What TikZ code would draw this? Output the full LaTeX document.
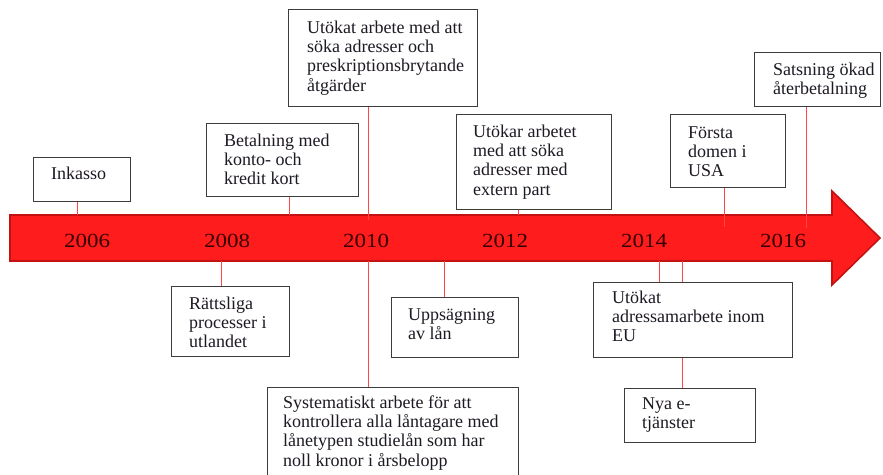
\documentclass[tikz,border=0pt]{standalone}
\usepackage{fontspec}
\setmainfont{Liberation Serif}
\definecolor{arrowred}{RGB}{255,28,28}
\definecolor{arrowedge}{RGB}{196,18,18}
\definecolor{connred}{RGB}{255,70,70}
\definecolor{boxgray}{RGB}{60,60,60}
\definecolor{txtcol}{RGB}{30,25,35}
\definecolor{yearcol}{RGB}{55,0,0}
\tikzset{
  box/.style={draw=boxgray, line width=1.3pt, fill=white, inner sep=0pt},
  txt/.style={font=\fontsize{18}{19.3}\selectfont, text=txtcol, align=left, inner sep=0pt, anchor=north west},
  conn/.style={draw=connred, line width=1pt},
  yr/.style={font=\fontsize{20}{22}\selectfont, text=yearcol, inner sep=0pt, anchor=base}
}
\newcommand{\mkbox}[5]{\node[box, anchor=north west, minimum width=#3-#1, minimum height=#4-#2] (#5) at (#1,#2) {};}
\begin{document}
\begin{tikzpicture}[x=1pt,y=-1pt]
\useasboundingbox (0,0) rectangle (883,474);
% arrow
\draw[fill=arrowred, draw=arrowedge, line width=1.6pt, line join=miter]
  (10,215) -- (832,215) -- (832,191) -- (880,238) -- (832,285) -- (832,261) -- (10,261) -- cycle;
% years
\node[yr] (y06) at (87,247) {\scalebox{1.15}[1]{2006}};
\node[yr] (y08) at (227,247) {\scalebox{1.15}[1]{2008}};
\node[yr] (y10) at (366,247) {\scalebox{1.15}[1]{2010}};
\node[yr] (y12) at (505,247) {\scalebox{1.15}[1]{2012}};
\node[yr] (y14) at (644,247) {\scalebox{1.15}[1]{2014}};
\node[yr] (y16) at (783,247) {\scalebox{1.15}[1]{2016}};
% arrow edge coordinates
\coordinate (a1) at (77,215);
\coordinate (a2) at (289,215);
\coordinate (a3) at (368,220);
\coordinate (a4) at (518,215);
\coordinate (a5) at (724,227);
\coordinate (a6) at (806,228);
\coordinate (b1) at (221,261);
\coordinate (b2) at (368,261);
\coordinate (b3) at (444,261);
\coordinate (b4) at (659,261);
\coordinate (b5) at (682,261);
% boxes above
\mkbox{33}{157}{130}{201}{inkasso}
\mkbox{206}{123}{358}{196}{betal}
\mkbox{288}{9}{477}{106}{utokat}
\mkbox{456}{114}{611}{209}{extern}
\mkbox{670}{114}{785}{187}{usa}
\mkbox{754}{52}{880}{106}{satsning}
% boxes below
\mkbox{171}{286}{289}{356}{ratt}
\mkbox{391}{297}{518}{357}{upps}
\mkbox{593}{282}{792}{357}{eu}
\mkbox{624}{388}{755}{442}{nya}
\mkbox{267}{387}{518}{485}{syst}
% connectors
\draw[conn] (inkasso.south -| a1) -- (a1);
\draw[conn] (betal.south -| a2) -- (a2);
\draw[conn] (utokat.south -| a3) -- (a3);
\draw[conn] (extern.south -| a4) -- (a4);
\draw[conn] (usa.south -| a5) -- (a5);
\draw[conn] (satsning.south -| a6) -- (a6);
\draw[conn] (b1) -- (ratt.north -| b1);
\draw[conn] (b2) -- (syst.north -| b2);
\draw[conn] (b3) -- (upps.north -| b3);
\draw[conn] (b4) -- (eu.north -| b4);
\draw[conn] (b5) -- (eu.north -| b5);
\draw[conn] (eu.south -| b5) -- (nya.north -| b5);
% texts
\node[txt] (t1) at (51,165.5) {\strut Inkasso};
\node[txt] (t2) at (224,132.5) {\strut Betalning med\\konto- och\\kredit kort};
\node[txt] (t3) at (307,19.5) {\strut Utökat arbete med att\\söka adresser och\\preskriptionsbrytande\\åtgärder};
\node[txt] (t4) at (473,123.5) {\strut Utökar arbetet\\med att söka\\adresser med\\extern part};
\node[txt] (t5) at (688,124.5) {\strut Första\\domen i\\USA};
\node[txt] (t6) at (773,61.5) {\strut Satsning ökad\\återbetalning};
\node[txt] (t7) at (189,295.5) {\strut Rättsliga\\processer i\\utlandet};
\node[txt] (t8) at (408,306.5) {\strut Uppsägning\\av lån};
\node[txt] (t9) at (612,289.5) {\strut Utökat\\adressamarbete inom\\EU};
\node[txt] (t10) at (642,395.5) {\strut Nya e-\\tjänster};
\node[txt] (t11) at (283,394.5) {\strut Systematiskt arbete för att\\kontrollera alla låntagare med\\lånetypen studielån som har\\noll kronor i årsbelopp};
\end{tikzpicture}
\end{document}
